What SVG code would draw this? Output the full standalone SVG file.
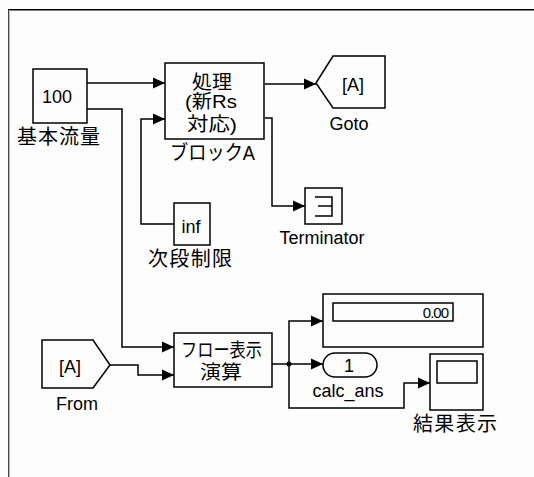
<svg xmlns="http://www.w3.org/2000/svg" width="534" height="477" viewBox="0 0 534 477">
<defs>
<style>
.blk{fill:#fdfdfd;stroke:#000;stroke-width:1.5}
.ln{fill:none;stroke:#000;stroke-width:1.5}
.arr{fill:none;stroke:#000;stroke-width:1.5;marker-end:url(#ah)}
.t{font-family:"Liberation Sans","Noto Sans CJK JP",sans-serif;font-size:18px;fill:#000;text-anchor:middle}
.j{font-family:"Liberation Sans","Noto Sans CJK JP",sans-serif;font-size:20px;fill:#000;text-anchor:middle}
.k{font-family:"Liberation Sans","Noto Sans CJK JP",sans-serif;font-size:19px;fill:#000;text-anchor:middle}
</style>
<marker id="ah" markerUnits="userSpaceOnUse" markerWidth="12" markerHeight="12" refX="12" refY="6" orient="auto">
<path d="M0,0.5 L12,6 L0,11.5 z" fill="#000"/>
</marker>
</defs>
<rect x="0" y="0" width="534" height="477" fill="#fdfdfd"/>
<g id="frame">
<line x1="8" y1="9.75" x2="534" y2="9.75" stroke="#000" stroke-width="1.5"/>
<line x1="8.5" y1="10" x2="8.5" y2="477" stroke="#444" stroke-width="1"/>
<line x1="9.5" y1="10" x2="9.5" y2="477" stroke="#bbb" stroke-width="1"/>
</g>
<g id="connectors">
<path class="arr" d="M87,83 H165"/>
<path class="arr" d="M87,109 H122 V347 H174"/>
<path class="arr" d="M174,224 H141 V119 H165"/>
<path class="arr" d="M265,84 H316"/>
<path class="arr" d="M265,118 H272 V206 H305"/>
<path class="arr" d="M110,365 H138 V375 H174"/>
<path class="ln" d="M272,364 H289"/>
<path class="arr" d="M289,364 H323"/>
<path class="arr" d="M289,364 V321 H323"/>
<path class="arr" d="M289,364 V408 H404 V383 H430"/>
<circle cx="289" cy="364" r="2.5" fill="#000"/>
</g>
<g id="const100">
<rect class="blk" x="33" y="69" width="54" height="54"/>
<text class="t" x="57" y="103">100</text>
<text class="j" x="58.5" y="144" textLength="83" lengthAdjust="spacing">基本流量</text>
</g>
<g id="blockA">
<rect class="blk" x="165" y="63" width="99" height="76"/>
<text class="k" x="212" y="89" textLength="40" lengthAdjust="spacingAndGlyphs">処理</text>
<text class="k" x="211" y="108" textLength="52" lengthAdjust="spacingAndGlyphs">(新Rs</text>
<text class="k" x="212" y="131" textLength="50" lengthAdjust="spacingAndGlyphs">対応)</text>
<text class="j" x="212.5" y="160" textLength="85" lengthAdjust="spacingAndGlyphs">ブロックA</text>
</g>
<g id="goto">
<polygon class="blk" points="316,83 333,56 385,56 385,108 333,108"/>
<text class="t" x="353" y="91">[A]</text>
<text class="t" x="349" y="130">Goto</text>
</g>
<g id="terminator">
<rect class="blk" x="305" y="188" width="37" height="36"/>
<path class="ln" d="M315,197 H332 V216 H315 M318,206 H332"/>
<text class="t" x="322" y="244">Terminator</text>
</g>
<g id="inf">
<rect class="blk" x="174" y="203" width="36" height="42"/>
<text class="t" x="191" y="233">inf</text>
<text class="j" x="190" y="266" textLength="84" lengthAdjust="spacing">次段制限</text>
</g>
<g id="from">
<polygon class="blk" points="42,340 93,340 110,365 93,388 42,388"/>
<text class="t" x="70" y="373">[A]</text>
<text class="t" x="77" y="410">From</text>
</g>
<g id="flow">
<rect class="blk" x="174" y="333" width="98" height="54"/>
<text class="k" x="221.5" y="357" textLength="81" lengthAdjust="spacingAndGlyphs">フロー表示</text>
<text class="k" x="221" y="379" textLength="42" lengthAdjust="spacingAndGlyphs">演算</text>
</g>
<g id="display">
<rect class="blk" x="323" y="294" width="160" height="53"/>
<rect class="blk" x="333" y="303" width="120" height="18"/>
<text x="448" y="318" font-family="Liberation Sans, sans-serif" font-size="15" text-anchor="end" letter-spacing="-1">0.00</text>
</g>
<g id="outport">
<rect class="blk" x="323" y="353" width="54" height="24" rx="12" ry="12"/>
<text class="t" x="349" y="372">1</text>
<text class="t" x="348" y="397">calc_ans</text>
</g>
<g id="scope">
<rect class="blk" x="430" y="354" width="53" height="56"/>
<rect class="blk" x="437" y="361" width="40" height="22"/>
<text class="j" x="455" y="431" textLength="84" lengthAdjust="spacing">結果表示</text>
</g>
</svg>
